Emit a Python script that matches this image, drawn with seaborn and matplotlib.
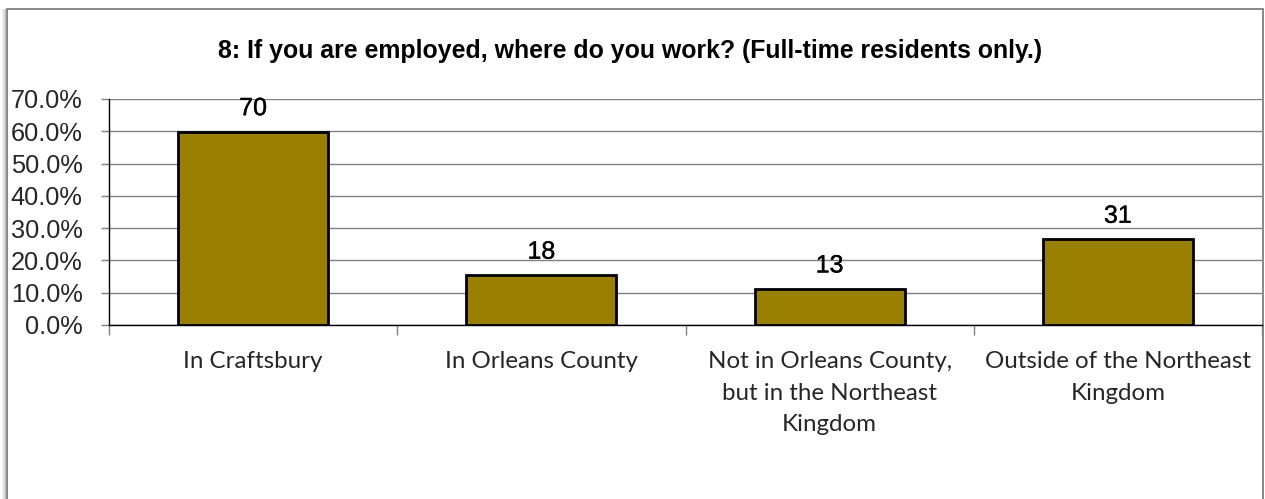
import matplotlib
matplotlib.use("Agg")
import matplotlib.pyplot as plt
import matplotlib.patheffects as pe
from matplotlib.patches import Rectangle
from matplotlib.ticker import FixedLocator, PercentFormatter
import numpy as np
import pandas as pd
import seaborn as sns

# Survey responses: question 8, full-time residents
categories = [
    "In Craftsbury",
    "In Orleans County",
    "Not in Orleans County,\nbut in the Northeast\nKingdom",
    "Outside of the Northeast\nKingdom",
]
counts = [70, 18, 13, 31]
respondents = 117
y_ticks = [0, 10, 20, 30, 40, 50, 60, 70]

percent = [100.0 * c / respondents for c in counts]
df = pd.DataFrame({"category": categories, "percent": percent, "count": counts})

sns.set_theme(style="white")
W, H = 1265, 499
fig = plt.figure(figsize=(W / 100, H / 100), dpi=100)
fig.patch.set_facecolor("white")

# chart frame with a soft shadow on the left
for i, a in enumerate([0.06, 0.10, 0.16, 0.24]):
    fig.patches.append(Rectangle(((2 + i) / W, -0.1), 1 / W, 1.1 - 9 / H,
                                 transform=fig.transFigure, facecolor="black",
                                 alpha=a, edgecolor="none", zorder=0))
fig.patches.append(Rectangle((6.5 / W, -0.1), (1263 - 6.5) / W, 1.1 - 8.5 / H,
                             transform=fig.transFigure, facecolor="white",
                             edgecolor="#7f7f7f", linewidth=1.3, zorder=1))

ax = fig.add_axes([109 / W, (H - 325) / H, (1262 - 109) / W, (325 - 99) / H])
ax.set_facecolor("none")
ax.set_zorder(2)

sns.barplot(data=df, x="category", y="percent", color="#998000",
            edgecolor="black", linewidth=2, width=0.52, saturation=1,
            ax=ax, zorder=3)

ax.set_xlim(-0.5, len(categories) - 0.5)
ax.set_ylim(0, 70)
ax.yaxis.set_major_locator(FixedLocator(y_ticks))
ax.yaxis.set_major_formatter(PercentFormatter(decimals=1))
ax.grid(axis="y", color="#808080", linewidth=1.0, zorder=0)
ax.set_axisbelow(True)
ax.set_xlabel("")
ax.set_ylabel("")

for side in ["top", "right"]:
    ax.spines[side].set_visible(False)
for side in ["left", "bottom"]:
    ax.spines[side].set_color("black")
    ax.spines[side].set_linewidth(1.0)

ax.tick_params(axis="y", which="major", left=True, length=6, width=1,
               color="#808080", pad=13, labelsize=18.3)
for lab in ax.get_yticklabels():
    lab.set_fontfamily("Liberation Sans")

# category boundary ticks below the axis
ax.set_xticks(np.arange(-0.5, len(categories), 1.0), minor=True)
ax.tick_params(axis="x", which="minor", bottom=True, length=7, width=1,
               color="#808080")
ax.tick_params(axis="x", which="major", bottom=False, length=0, pad=19)
for lab in ax.get_xticklabels():
    lab.set_fontfamily("Lato")
    lab.set_fontsize(17.4)
    lab.set_linespacing(1.6)
    lab.set_verticalalignment("top")

# response counts above each bar
for i, (p, c) in enumerate(zip(percent, counts)):
    ax.annotate(str(c), xy=(i, p), xytext=(0, 12), textcoords="offset points",
                ha="center", va="baseline", fontsize=18,
                fontfamily="Liberation Sans", color="black", zorder=5,
                path_effects=[pe.withStroke(linewidth=0.25, foreground="black")])

fig.text(630 / W, (H - 58) / H,
         "8: If you are employed, where do you work? (Full-time residents only.)",
         ha="center", va="baseline", fontsize=17.9, fontweight="bold",
         fontfamily="Liberation Sans", color="black")

fig.savefig("out.png", dpi=100, facecolor="white")
